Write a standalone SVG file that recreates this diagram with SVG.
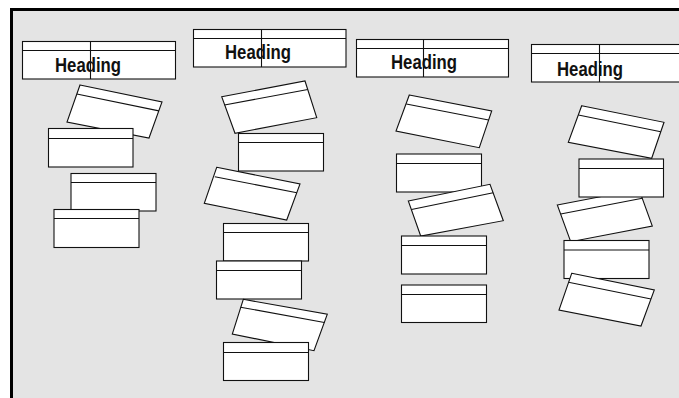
<svg xmlns="http://www.w3.org/2000/svg" width="679" height="398" viewBox="0 0 679 398">
<style>
.frame{fill:#e4e4e4;stroke:#000;stroke-width:3}
.card{fill:#fff;stroke:#111;stroke-width:1.1}
.ln{stroke:#111;stroke-width:1.1;fill:none}
.hd{font-family:"Liberation Sans Narrow","Liberation Sans",Arial,sans-serif;font-weight:bold;font-size:21px;fill:#111}
</style>
<rect class="frame" x="11.5" y="9.5" width="700" height="420"/>
<g id="heading1"><rect class="card" x="22.5" y="41.5" width="153" height="37.5"/><line class="ln" x1="22.5" y1="50.5" x2="175.5" y2="50.5"/><line class="ln" x1="90.5" y1="41.5" x2="90.5" y2="79"/><text class="hd" x="55" y="72" textLength="66" lengthAdjust="spacingAndGlyphs">Heading</text></g>
<g id="heading2"><rect class="card" x="193.5" y="29.5" width="152.5" height="37.5"/><line class="ln" x1="193.5" y1="38.5" x2="346" y2="38.5"/><line class="ln" x1="261.5" y1="29.5" x2="261.5" y2="67"/><text class="hd" x="225" y="59" textLength="66" lengthAdjust="spacingAndGlyphs">Heading</text></g>
<g id="heading3"><rect class="card" x="356.5" y="39.5" width="152" height="37.5"/><line class="ln" x1="356.5" y1="48.5" x2="508.5" y2="48.5"/><line class="ln" x1="423.5" y1="39.5" x2="423.5" y2="77"/><text class="hd" x="391" y="69" textLength="66" lengthAdjust="spacingAndGlyphs">Heading</text></g>
<g id="heading4"><rect class="card" x="531.5" y="44.5" width="153" height="37.5"/><line class="ln" x1="531.5" y1="53.5" x2="684.5" y2="53.5"/><line class="ln" x1="599.5" y1="44.5" x2="599.5" y2="82"/><text class="hd" x="557" y="76" textLength="66" lengthAdjust="spacingAndGlyphs">Heading</text></g>

<g id="c1a"><polygon class="card" points="80,85 162,102 149,138 67,122"/><line class="ln" x1="76.8" y1="94" x2="158.9" y2="110.9"/></g>
<g id="c1b"><rect class="card" x="48.5" y="128.5" width="84.5" height="38.5"/><line class="ln" x1="48.5" y1="138.5" x2="133" y2="138.5"/></g>
<g id="c1c"><rect class="card" x="71" y="173.5" width="85" height="37.5"/><line class="ln" x1="71" y1="182.5" x2="156" y2="182.5"/></g>
<g id="c1d"><rect class="card" x="54" y="209.5" width="85" height="38"/><line class="ln" x1="54" y1="218.5" x2="139" y2="218.5"/></g>

<g id="c2a"><polygon class="card" points="221.7,96.7 305,81 316.7,117.7 235,133.3"/><line class="ln" x1="224.5" y1="105" x2="307.8" y2="89.5"/></g>
<g id="c2b"><rect class="card" x="238.5" y="133.5" width="85" height="37.5"/><line class="ln" x1="238.5" y1="142.5" x2="323.5" y2="142.5"/></g>
<g id="c2c"><polygon class="card" points="216.7,167.3 300,184 286.7,220 204.3,203.3"/><line class="ln" x1="214.8" y1="176.7" x2="296.9" y2="192.7"/></g>
<g id="c2d"><rect class="card" x="223.5" y="223.5" width="85" height="37.5"/><line class="ln" x1="223.5" y1="232.5" x2="308.5" y2="232.5"/></g>
<g id="c2e"><rect class="card" x="216.5" y="261" width="85" height="38"/><line class="ln" x1="216.5" y1="270.5" x2="301.5" y2="270.5"/></g>
<g id="c2f"><polygon class="card" points="243.3,299.3 327.3,314.3 314,350.7 232.3,334"/><line class="ln" x1="240.6" y1="307.2" x2="324.4" y2="322.5"/></g>
<g id="c2g"><rect class="card" x="223.5" y="342.5" width="85" height="38"/><line class="ln" x1="223.5" y1="352.5" x2="308.5" y2="352.5"/></g>

<g id="c3a"><polygon class="card" points="409.3,95 491.7,111 479.3,147.7 396,131"/><line class="ln" x1="406.3" y1="104" x2="488.6" y2="120"/></g>
<g id="c3b"><rect class="card" x="396.5" y="154" width="85" height="38"/><line class="ln" x1="396.5" y1="163.5" x2="481.5" y2="163.5"/></g>
<g id="c3c"><polygon class="card" points="408.3,201 490,184.3 503.3,220.7 420.7,236"/><line class="ln" x1="411.5" y1="209.5" x2="493.2" y2="192.8"/></g>
<g id="c3d"><rect class="card" x="401.5" y="236" width="85" height="38"/><line class="ln" x1="401.5" y1="245.5" x2="486.5" y2="245.5"/></g>
<g id="c3e"><rect class="card" x="401.5" y="285" width="85" height="37.5"/><line class="ln" x1="401.5" y1="294.5" x2="486.5" y2="294.5"/></g>

<g id="c4a"><polygon class="card" points="581.7,105.7 664,122.3 651.7,158.3 568.3,142.3"/><line class="ln" x1="578.4" y1="115" x2="660.8" y2="131.7"/></g>
<g id="c4c"><polygon class="card" points="557.3,205 639,189.3 652.3,226 570.7,241.7"/><line class="ln" x1="560.7" y1="214" x2="642.3" y2="198.3"/></g>
<g id="c4b"><rect class="card" x="579" y="159" width="84.5" height="38"/><line class="ln" x1="579" y1="168.5" x2="663.5" y2="168.5"/></g>
<g id="c4d"><rect class="card" x="564" y="240.5" width="85" height="38"/><line class="ln" x1="564" y1="250" x2="649" y2="250"/></g>
<g id="c4e"><polygon class="card" points="571.7,273.3 654.3,290 641,326 559,310"/><line class="ln" x1="568.5" y1="282.3" x2="651" y2="299"/></g>
</svg>
